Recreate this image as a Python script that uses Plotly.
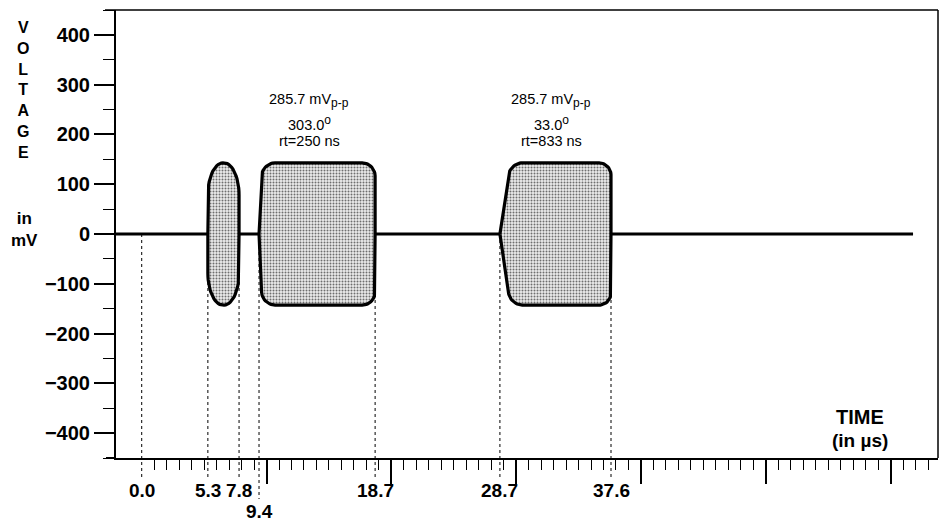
import numpy as np
import plotly.graph_objects as go

# ---- data -------------------------------------------------------------
event_times = [0.0, 5.3, 7.8, 9.4, 18.7, 28.7, 37.6]      # µs, marked on the time axis
burst_start = [5.3, 9.4, 28.7]                            # µs
burst_end = [7.8, 18.7, 37.6]                             # µs
burst_vpp = [285.7, 285.7, 285.7]                         # mV peak-to-peak
burst_phase = [None, 303.0, 33.0]                         # degrees
burst_rise_ns = [0, 250, 833]                             # rise time, ns
burst_labelled = [False, True, True]
trace_end = 61.8                                          # µs, end of the recorded trace
y_tick_values = [-400, -300, -200, -100, 0, 100, 200, 300, 400]
x_major_ticks = [10, 20, 30, 40, 50, 60]
x_minor_ticks = list(range(1, 65))

# ---- layout geometry --------------------------------------------------
W, H = 949, 521
MARGIN = dict(l=116, r=11, t=10, b=63)
PLOT_W = W - MARGIN["l"] - MARGIN["r"]
PLOT_H = H - MARGIN["t"] - MARGIN["b"]
X_RANGE = [-2.06, 63.8]
Y_RANGE = [-450, 450]
PX_PER_US = PLOT_W / (X_RANGE[1] - X_RANGE[0])
PX_PER_MV = PLOT_H / (Y_RANGE[1] - Y_RANGE[0])
FONT = "Liberation Sans, Arial, sans-serif"

# corner rounding of each burst envelope, in screen pixels (side, top)
CORNERS_PX = [(32, 15), (13, 13), (12, 12)]


def rounded_corner(prev_pt, corner, next_pt, r_in, r_out, n=16):
    """Cubic-bezier rounding of a polygon corner, computed in pixel space."""
    p0 = np.array(prev_pt, float)
    c = np.array(corner, float)
    p2 = np.array(next_pt, float)
    u_in = (p0 - c) / np.linalg.norm(p0 - c)
    u_out = (p2 - c) / np.linalg.norm(p2 - c)
    s = c + u_in * r_in
    e = c + u_out * r_out
    k = 0.55
    c1 = s + k * (c - s)
    c2 = e + k * (c - e)
    t = np.linspace(0, 1, n)[:, None]
    return ((1 - t) ** 3) * s + 3 * ((1 - t) ** 2) * t * c1 + 3 * (1 - t) * t ** 2 * c2 + t ** 3 * e


def envelope(start, end, vpp, rise_ns, r_side, r_top):
    half = vpp / 2.0
    rise = rise_ns / 1000.0
    to_px = lambda x, y: (x * PX_PER_US, y * PX_PER_MV)
    p0 = to_px(start, 0)
    p1 = to_px(start + rise, half)
    p2 = to_px(end, half)
    p3 = to_px(end, 0)
    upper = [np.array([p0])]
    upper.append(rounded_corner(p0, p1, p2, r_side, r_top))
    upper.append(rounded_corner(p1, p2, p3, r_top, r_side))
    upper.append(np.array([p3]))
    upper = np.vstack(upper)
    lower = upper[::-1].copy()
    lower[:, 1] *= -1
    pts = np.vstack([upper, lower])
    return pts[:, 0] / PX_PER_US, pts[:, 1] / PX_PER_MV


fig = go.Figure()

# flat part of the trace
fig.add_trace(go.Scatter(
    x=[X_RANGE[0], trace_end], y=[0, 0], mode="lines",
    line=dict(color="black", width=3), hoverinfo="skip", showlegend=False,
))

# burst envelopes, stippled fill
for i in range(len(burst_start)):
    bx, by = envelope(burst_start[i], burst_end[i], burst_vpp[i], burst_rise_ns[i], *CORNERS_PX[i])
    fig.add_trace(go.Scatter(
        x=bx, y=by, mode="lines", fill="toself",
        fillcolor="white",
        fillpattern=dict(shape=".", fgcolor="#6e6e6e", bgcolor="#ececec",
                         size=3, solidity=0.35, fillmode="replace"),
        line=dict(color="black", width=3.2), hoverinfo="skip", showlegend=False,
    ))

shapes = []
annotations = []

# dotted drop lines from the zero level to the time labels
zero_paper = (0 - Y_RANGE[0]) / (Y_RANGE[1] - Y_RANGE[0])
last_x_px = None
row = []
for t in event_times:
    xpx = t * PX_PER_US
    second = last_x_px is not None and (xpx - last_x_px) < 28
    row.append(1 if second else 0)
    if not second:
        last_x_px = xpx
for t, r in zip(event_times, row):
    bottom_px = 19 if r == 0 else 41
    shapes.append(dict(type="line", xref="x", yref="paper", x0=t, x1=t,
                       y0=zero_paper, y1=-bottom_px / PLOT_H,
                       line=dict(color="black", width=1, dash="dot"), layer="below"))
    annotations.append(dict(x=t, xref="x", y=0, yref="paper",
                            yshift=-32 if r == 0 else -53, yanchor="middle",
                            xanchor="center", showarrow=False,
                            text=f"{t:.1f}",
                            font=dict(family=FONT, size=19, color="black", weight="bold")))

# frame lines
shapes.append(dict(type="line", xref="paper", yref="paper", x0=-11 / PLOT_W, x1=1,
                   y0=1, y1=1, line=dict(color="black", width=1.5)))
shapes.append(dict(type="line", xref="paper", yref="paper", x0=1, x1=1,
                   y0=0, y1=1, line=dict(color="black", width=1.5)))
shapes.append(dict(type="line", xref="paper", yref="paper", x0=-10 / PLOT_W, x1=0,
                   y0=0, y1=0, line=dict(color="black", width=2)))

# burst captions
SMALL = '<span style="font-size:12px">{}</span>'
for i in range(len(burst_start)):
    if not burst_labelled[i]:
        continue
    xc = (burst_start[i] + burst_end[i]) / 2
    top = burst_vpp[i] / 2
    shift = -8 if burst_rise_ns[i] < 500 else -4
    lines = [
        (f"{burst_vpp[i]:.1f} mV<sub>" + SMALL.format("p-p") + "</sub>", 62),
        (f"{burst_phase[i]:.1f}<sup>" + SMALL.format("o") + "</sup>", 40),
        (f"rt={burst_rise_ns[i]} ns", 22),
    ]
    for txt, ys in lines:
        annotations.append(dict(x=xc, xref="x", y=top, yref="y", yshift=ys, xshift=shift,
                                xanchor="center", yanchor="middle", showarrow=False,
                                text=txt, font=dict(family=FONT, size=14.5, color="black")))

# axis titles
annotations.append(dict(x=0, xref="paper", xshift=-93, y=1, yref="paper", yshift=-7,
                        xanchor="center", yanchor="top", showarrow=False,
                        text="<br>".join("VOLTAGE"),
                        font=dict(family=FONT, size=16, color="black", weight="bold")))
annotations.append(dict(x=0, xref="paper", xshift=-92, y=0, yref="y", yshift=5,
                        xanchor="center", yanchor="middle", showarrow=False,
                        text="in<br>mV",
                        font=dict(family=FONT, size=17, color="black", weight="bold")))
annotations.append(dict(x=(860 - MARGIN["l"]) / PLOT_W, xref="paper", y=0, yref="paper",
                        yshift=41, xanchor="center", yanchor="middle", showarrow=False,
                        text="TIME",
                        font=dict(family=FONT, size=20, color="black", weight="bold")))
annotations.append(dict(x=(860 - MARGIN["l"]) / PLOT_W, xref="paper", y=0, yref="paper",
                        yshift=18, xanchor="center", yanchor="middle", showarrow=False,
                        text="(in µs)",
                        font=dict(family=FONT, size=19, color="black", weight="bold")))

fig.update_layout(
    width=W, height=H, margin=MARGIN,
    paper_bgcolor="white", plot_bgcolor="white",
    showlegend=False,
    shapes=shapes, annotations=annotations,
    xaxis=dict(
        range=X_RANGE, showgrid=False, zeroline=False,
        showline=True, linecolor="black", linewidth=2,
        tickmode="array", tickvals=x_major_ticks, ticks="outside",
        ticklen=24, tickwidth=1.5, tickcolor="black", showticklabels=False,
        minor=dict(tickmode="array", tickvals=x_minor_ticks, ticks="outside",
                   ticklen=10, tickwidth=1.3, tickcolor="black", showgrid=False),
    ),
    yaxis=dict(
        range=Y_RANGE, showgrid=False, zeroline=False,
        showline=True, linecolor="black", linewidth=2,
        tickmode="array", tickvals=y_tick_values, ticks="outside",
        ticklen=20, tickwidth=1.5, tickcolor="black",
        tickfont=dict(family=FONT, size=20, color="black", weight="bold"),
        minor=dict(dtick=50, tick0=0, ticks="outside", ticklen=11,
                   tickwidth=1.3, tickcolor="black", showgrid=False),
    ),
)

fig.write_html("out.html")
